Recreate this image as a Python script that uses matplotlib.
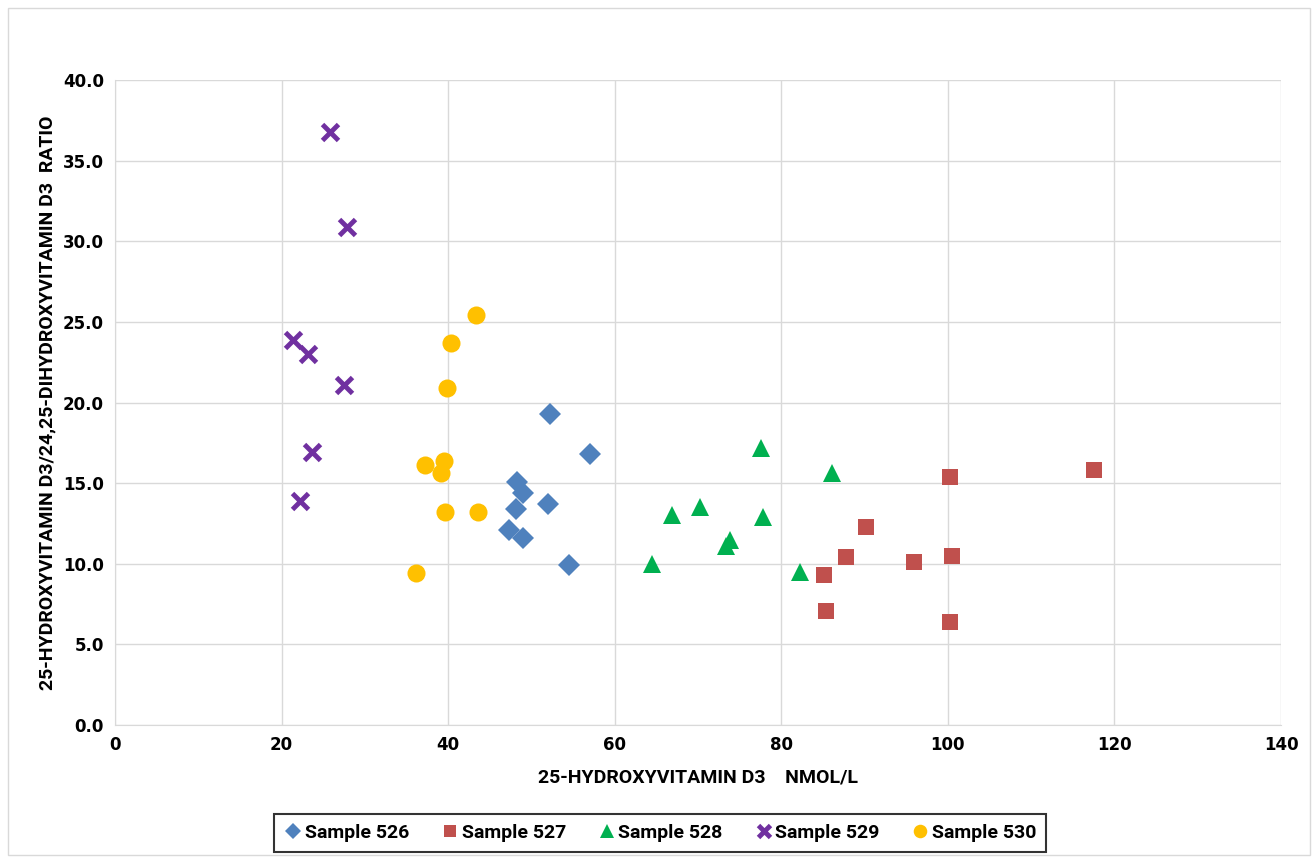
import matplotlib
matplotlib.use('Agg')
import matplotlib.pyplot as plt
from matplotlib.patches import Rectangle

# data
s526_x = [52.2, 57.0, 48.3, 49.0, 48.1, 52.0, 47.3, 49.0, 54.5]
s526_y = [19.3, 16.8, 15.1, 14.4, 13.4, 13.7, 12.1, 11.6, 9.9]

s527_x = [117.5, 100.3, 90.2, 100.5, 95.9, 87.8, 85.1, 85.4, 100.3]
s527_y = [15.8, 15.4, 12.3, 10.5, 10.1, 10.4, 9.3, 7.1, 6.4]

s528_x = [77.6, 86.1, 66.9, 70.2, 77.8, 73.8, 73.4, 64.5, 82.2]
s528_y = [17.2, 15.6, 13.0, 13.5, 12.9, 11.5, 11.1, 10.0, 9.5]

s529_x = [25.8, 27.9, 21.4, 23.2, 27.5, 23.7, 22.2]
s529_y = [36.8, 30.9, 23.9, 23.0, 21.1, 16.9, 13.9]

s530_x = [43.3, 40.3, 39.9, 39.5, 37.2, 39.1, 39.6, 43.6, 36.1]
s530_y = [25.4, 23.7, 20.9, 16.4, 16.1, 15.6, 13.2, 13.2, 9.4]

series = [
    ('Sample 526', s526_x, s526_y, 'D', '#4F81BD', 11),
    ('Sample 527', s527_x, s527_y, 's', '#C0504D', 12),
    ('Sample 528', s528_x, s528_y, '^', '#00B050', 13),
    ('Sample 529', s529_x, s529_y, 'x', '#7030A0', 12),
    ('Sample 530', s530_x, s530_y, 'o', '#FFC000', 13),
]

label_font = ['Roboto', 'DejaVu Sans']

fig = plt.figure(figsize=(13.16, 8.57), dpi=100)
ax = fig.add_axes([115 / 1316, 1 - 725 / 857, 1166 / 1316, 645 / 857])

# chart border
fig.patches.append(Rectangle((8 / 1316, 2 / 857), 1302 / 1316, 847 / 857,
                             transform=fig.transFigure, fill=False,
                             edgecolor='#d9d9d9', linewidth=1.0))

for name, xs, ys, m, c, ms in series:
    if m == 'x':
        ax.plot(xs, ys, linestyle='none', marker=m, color=c, markersize=ms,
                markeredgewidth=3.5, label=name)
    else:
        ax.plot(xs, ys, linestyle='none', marker=m, color=c, markersize=ms,
                markeredgewidth=0, label=name)

ax.set_xlim(0, 140)
ax.set_ylim(0, 40)
ax.set_xticks(range(0, 141, 20))
ax.set_yticks(range(0, 41, 5))
ax.set_yticklabels(['%.1f' % v for v in range(0, 41, 5)])
ax.grid(True, color='#d9d9d9', linewidth=1.0)
ax.set_axisbelow(True)
for side in ['top', 'right']:
    ax.spines[side].set_visible(False)
for side in ['left', 'bottom']:
    ax.spines[side].set_color('#d9d9d9')
ax.tick_params(length=0, labelsize=12, pad=8)
for lab in ax.get_xticklabels() + ax.get_yticklabels():
    lab.set_fontweight('bold')

ax.set_xlabel('25-HYDROXYVITAMIN D3    NMOL/L', family=label_font,
              fontsize=14, fontweight='bold', labelpad=10)
ax.set_ylabel('25-HYDROXYVITAMIN D3/24,25-DIHYDROXYVITAMIN D3  RATIO',
              family=label_font, fontsize=14, fontweight='bold', labelpad=5)

leg = ax.legend(loc='center', bbox_to_anchor=(660 / 1316, 1 - 833 / 857),
                bbox_transform=fig.transFigure, ncol=5, frameon=True,
                fancybox=False, edgecolor='black', handletextpad=0.1,
                columnspacing=1.6, handlelength=1.0, borderpad=0.5,
                markerscale=0.75,
                prop={'family': label_font, 'size': 14, 'weight': 'bold'})
leg.get_frame().set_linewidth(1.5)

fig.savefig('out.png', dpi=100)
